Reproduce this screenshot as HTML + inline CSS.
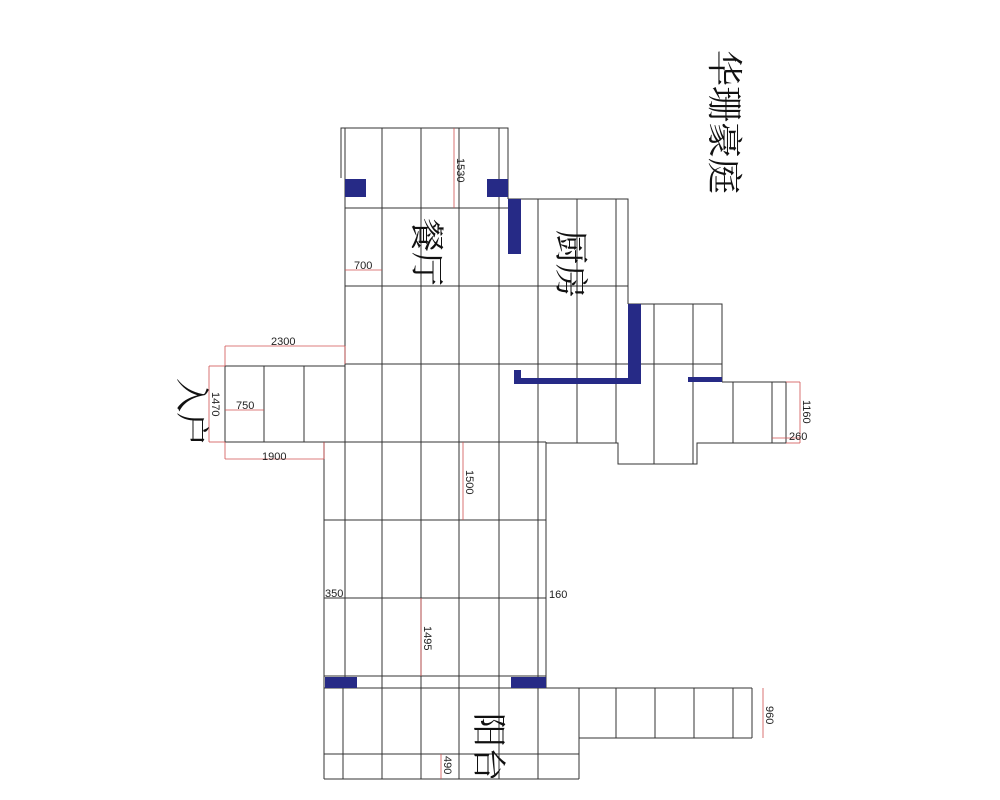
<!DOCTYPE html>
<html><head><meta charset="utf-8"><style>body{margin:0;background:#fff}svg{display:block}</style></head>
<body>
<svg width="1000" height="800" viewBox="0 0 1000 800" xmlns="http://www.w3.org/2000/svg" font-family="Liberation Sans, Noto Sans CJK SC, sans-serif">
<g stroke="#333" stroke-width="1" fill="none">
<polyline points="341,178 341,128 508,128 508,199"/>
<line x1="345" y1="128" x2="345" y2="364"/>
<line x1="382" y1="128" x2="382" y2="779"/>
<line x1="421" y1="128" x2="421" y2="779"/>
<line x1="459" y1="128" x2="459" y2="779"/>
<line x1="499" y1="128" x2="499" y2="779"/>
<line x1="345" y1="208" x2="508" y2="208"/>
<line x1="345" y1="286" x2="628" y2="286"/>
<line x1="345" y1="364" x2="722" y2="364"/>
<polyline points="508,199 628,199 628,304"/>
<line x1="538" y1="199" x2="538" y2="779"/>
<line x1="577" y1="199" x2="577" y2="443"/>
<line x1="616" y1="199" x2="616" y2="443"/>
<polyline points="628,304 722,304 722,382"/>
<line x1="654" y1="304" x2="654" y2="464"/>
<line x1="693" y1="304" x2="693" y2="464"/>
<polyline points="722,382 786,382 786,443 697,443 697,464 618,464 618,443 546,443"/>
<line x1="733" y1="382" x2="733" y2="443"/>
<line x1="772" y1="382" x2="772" y2="443"/>
<polyline points="345,366 225,366 225,442 324,442"/>
<line x1="264" y1="366" x2="264" y2="442"/>
<line x1="304" y1="366" x2="304" y2="442"/>
<line x1="345" y1="364" x2="345" y2="688"/>
<line x1="324" y1="442" x2="546" y2="442"/>
<line x1="324" y1="442" x2="324" y2="779"/>
<line x1="546" y1="442" x2="546" y2="688"/>
<line x1="324" y1="520" x2="546" y2="520"/>
<line x1="324" y1="598" x2="546" y2="598"/>
<line x1="324" y1="676" x2="546" y2="676"/>
<line x1="324" y1="688" x2="752" y2="688"/>
<line x1="343" y1="688" x2="343" y2="779"/>
<line x1="324" y1="754" x2="579" y2="754"/>
<line x1="324" y1="779" x2="579" y2="779"/>
<line x1="579" y1="688" x2="579" y2="779"/>
<line x1="579" y1="738" x2="752" y2="738"/>
<line x1="616" y1="688" x2="616" y2="738"/>
<line x1="655" y1="688" x2="655" y2="738"/>
<line x1="694" y1="688" x2="694" y2="738"/>
<line x1="733" y1="688" x2="733" y2="738"/>
<line x1="752" y1="688" x2="752" y2="738"/>
</g>
<g fill="#262a86">
<rect x="345" y="179" width="21" height="18"/>
<rect x="487" y="179" width="21" height="18"/>
<rect x="508" y="199" width="13" height="55"/>
<rect x="628" y="304" width="13" height="80"/>
<rect x="514" y="378" width="127" height="6"/>
<rect x="514" y="370" width="7" height="10"/>
<rect x="688" y="377" width="34" height="5"/>
<rect x="325" y="677" width="32" height="11"/>
<rect x="511" y="677" width="35" height="11"/>
</g>
<g stroke="#d05050" stroke-width="0.8" fill="none">
<line x1="454" y1="128" x2="454" y2="208"/>
<line x1="345" y1="270" x2="382" y2="270"/>
<line x1="225" y1="346" x2="345" y2="346"/><line x1="225" y1="346" x2="225" y2="366"/><line x1="345" y1="346" x2="345" y2="364"/>
<line x1="209" y1="366" x2="209" y2="442"/><line x1="209" y1="366" x2="225" y2="366"/><line x1="209" y1="442" x2="225" y2="442"/>
<line x1="225" y1="410" x2="264" y2="410"/>
<line x1="225" y1="459" x2="324" y2="459"/><line x1="225" y1="442" x2="225" y2="459"/><line x1="324" y1="442" x2="324" y2="459"/>
<line x1="463" y1="442" x2="463" y2="520"/>
<line x1="421" y1="598" x2="421" y2="676"/>
<line x1="441" y1="754" x2="441" y2="779"/>
<line x1="763" y1="688" x2="763" y2="738"/>
<line x1="800" y1="382" x2="800" y2="443"/><line x1="786" y1="382" x2="800" y2="382"/><line x1="786" y1="443" x2="800" y2="443"/>
<line x1="772" y1="438" x2="800" y2="438"/>
</g>
<g font-size="11" fill="#222">
<text x="354" y="269">700</text>
<text x="271" y="345">2300</text>
<text x="236" y="409">750</text>
<text x="262" y="460">1900</text>
<text x="325" y="597">350</text>
<text x="549" y="598">160</text>
<text x="789" y="440">260</text>
<text transform="translate(457,158) rotate(90)">1530</text>
<text transform="translate(212,392) rotate(90)">1470</text>
<text transform="translate(466,470) rotate(90)">1500</text>
<text transform="translate(424,626) rotate(90)">1495</text>
<text transform="translate(444,756) rotate(90)">490</text>
<text transform="translate(766,706) rotate(90)">960</text>
<text transform="translate(803,400) rotate(90)">1160</text>
</g>
<g fill="#111" font-family="Liberation Serif, Noto Serif CJK SC, serif">
<text font-size="36" transform="translate(712,50) rotate(90)">华珊豪庭</text>
<text font-size="34" transform="translate(180,378) rotate(90)">入户</text>
<text font-size="34" transform="translate(415,218) rotate(90)">餐厅</text>
<text font-size="34" transform="translate(559,230) rotate(90)">厨房</text>
<text font-size="34" transform="translate(477,713) rotate(90)">阳台</text>
</g>
</svg>
</body></html>
